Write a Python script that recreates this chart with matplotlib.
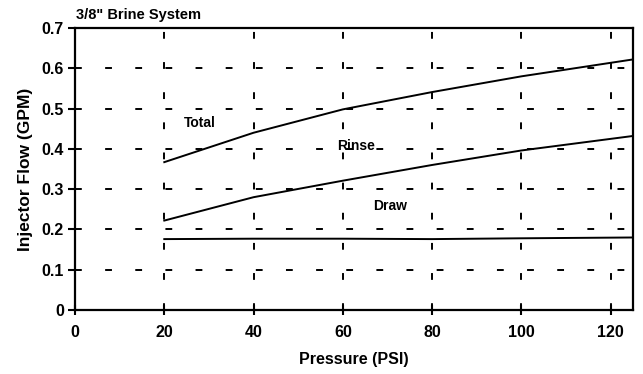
import matplotlib
matplotlib.use("Agg")
import matplotlib.pyplot as plt

plt.rcParams['font.family'] = ['Liberation Sans', 'DejaVu Sans']
plt.rcParams['font.weight'] = 'bold'

pressure = [20, 40, 60, 80, 100, 125]
total = [0.367, 0.440, 0.498, 0.541, 0.580, 0.622]
rinse = [0.222, 0.280, 0.321, 0.360, 0.396, 0.432]
draw = [0.176, 0.177, 0.177, 0.176, 0.178, 0.180]

x_ticks = [0, 20, 40, 60, 80, 100, 120]
y_ticks = [0, 0.1, 0.2, 0.3, 0.4, 0.5, 0.6, 0.7]
y_labels = ['0', '0.1', '0.2', '0.3', '0.4', '0.5', '0.6', '0.7']

fig = plt.figure(figsize=(6.43, 3.74), dpi=100)
ax = fig.add_axes([75 / 643, 1 - 310 / 374, (633 - 75) / 643, (310 - 28) / 374])

for series in (total, rinse, draw):
    ax.plot(pressure, series, color='black', lw=1.4)

ax.set_xlim(0, 125)
ax.set_ylim(0, 0.7)
ax.set_xticks(x_ticks)
ax.set_yticks(y_ticks)
ax.set_yticklabels(y_labels)
ax.tick_params(axis='x', direction='inout', length=7, width=1.5, labelsize=11.5, pad=7)
ax.tick_params(axis='y', direction='out', length=5, width=1.5, labelsize=11.5, pad=3)
for s in ax.spines.values():
    s.set_linewidth(1.6)

ax.grid(True, color='black', lw=1.4, linestyle=(0, (3.5, 12)))

ax.text(28, 0.464, 'Total', fontsize=10, ha='center', va='center')
ax.text(63, 0.407, 'Rinse', fontsize=10, ha='center', va='center')
ax.text(70.5, 0.258, 'Draw', fontsize=10, ha='center', va='center')

ax.set_xlabel('Pressure (PSI)', fontsize=11.5, fontweight='bold', labelpad=9)
ax.set_ylabel('Injector Flow (GPM)', fontsize=12.5, fontweight='bold', labelpad=6)
fig.text(76 / 643, 1 - 15 / 374, '3/8" Brine System', fontsize=10.5, ha='left', va='center')

fig.savefig('out.png', dpi=100)
